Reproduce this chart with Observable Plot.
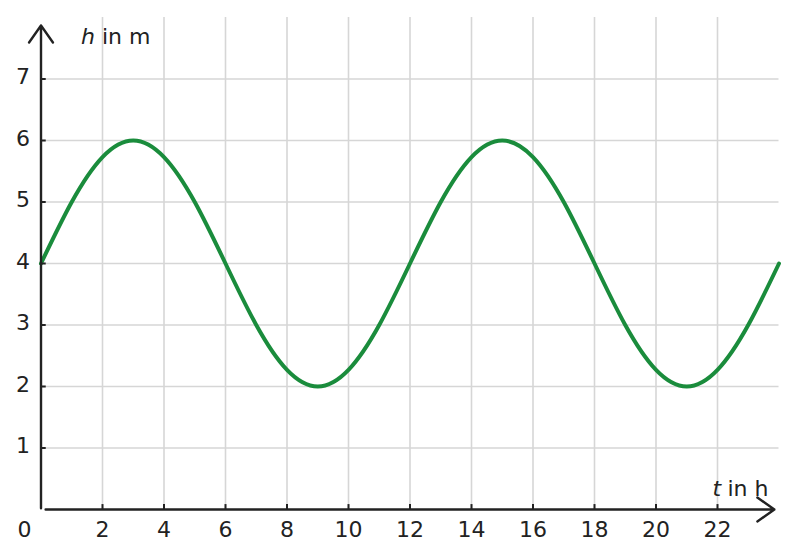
<!DOCTYPE html>
<html>
<head>
<meta charset="utf-8">
<script src="https://cdn.jsdelivr.net/npm/d3@7"></script>
<script src="https://cdn.jsdelivr.net/npm/@observablehq/plot@0.6"></script>
<style>
  html, body { margin: 0; padding: 0; background: #fff; }
  #chart svg { display: block; }
</style>
</head>
<body>
<div id="chart"></div>
<script>
// Hours (t) and water level (h in m)
const hours = [0,1,2,3,4,5,6,7,8,9,10,11,12,13,14,15,16,17,18,19,20,21,22,23,24];
const levels = [4,5,5.73,6,5.73,5,4,3,2.27,2,2.27,3,4,5,5.73,6,5.73,5,4,3,2.27,2,2.27,3,4];
const xTicks = [2,4,6,8,10,12,14,16,18,20,22];
const yTicks = [1,2,3,4,5,6,7];
const originLabel = "0";
const xLabel = "t";
const xUnit = "in h";
const yLabel = "h";
const yUnit = "in m";

const data = hours.map((t, i) => ({t, h: levels[i]}));
const font = "DejaVu Sans, sans-serif";
const axisColor = "#222";
const gridColor = "#d6d6d6";
const green = "#1a8c3c";
const fs = 22;

const chart = Plot.plot({
  width: 796,
  height: 557,
  marginTop: 0, marginRight: 0, marginBottom: 0, marginLeft: 0,
  style: {fontFamily: font, fontSize: fs + "px", color: axisColor, background: "#fff"},
  x: {domain: [0, 24], range: [40.5, 778.5], axis: null},
  y: {domain: [0, 8], range: [509, 17], axis: null},
  marks: [
    // grid
    Plot.ruleX(xTicks, {y1: 0, y2: 8, stroke: gridColor, strokeWidth: 1.6}),
    Plot.ruleY(yTicks, {x1: 0, x2: 24, stroke: gridColor, strokeWidth: 1.6}),
    // curve
    Plot.line(data, {x: "t", y: "h", curve: "natural", stroke: green, strokeWidth: 4}),
    // axes with arrows
    Plot.arrow([0], {x1: 0, y1: 0.02, x2: 0, y2: 7.87, stroke: axisColor, strokeWidth: 2.4, headLength: 13, headAngle: 70}),
    Plot.arrow([0], {x1: 0.15, y1: 0, x2: 23.85, y2: 0, stroke: axisColor, strokeWidth: 2.4, headLength: 13, headAngle: 70}),
    // tick marks (inward)
    Plot.ruleX(xTicks, {y1: 0, y2: 0.08, stroke: axisColor, strokeWidth: 2}),
    Plot.ruleY(yTicks, {x1: 0, x2: 0.17, stroke: axisColor, strokeWidth: 2}),
    // tick labels
    Plot.text(xTicks, {x: d => d, y: 0, text: d => String(d), dy: 27, lineAnchor: "bottom", textAnchor: "middle", fill: axisColor, fontSize: fs}),
    Plot.text(yTicks, {x: 0, y: d => d, text: d => String(d), dx: -11, dy: -2, lineAnchor: "middle", textAnchor: "end", fill: axisColor, fontSize: fs}),
    Plot.text([originLabel], {x: 0, y: 0, text: d => d, dx: -16.5, dy: 27, lineAnchor: "bottom", textAnchor: "middle", fill: axisColor, fontSize: fs}),
    // axis titles
    Plot.text([yLabel], {x: 0, y: 8, text: d => d, dx: 40, dy: 26, lineAnchor: "bottom", textAnchor: "start", fontStyle: "italic", fill: axisColor, fontSize: fs}),
    Plot.text([yUnit], {x: 0, y: 8, text: d => d, dx: 61, dy: 26, lineAnchor: "bottom", textAnchor: "start", fill: axisColor, fontSize: fs}),
    Plot.text([xLabel], {x: 24, y: 0, text: d => d, dx: -66.5, dy: -14, lineAnchor: "bottom", textAnchor: "start", fontStyle: "italic", fill: axisColor, fontSize: fs}),
    Plot.text([xUnit], {x: 24, y: 0, text: d => d, dx: -51.5, dy: -14, lineAnchor: "bottom", textAnchor: "start", fill: axisColor, fontSize: fs})
  ]
});
document.getElementById("chart").append(chart);
</script>
</body>
</html>
